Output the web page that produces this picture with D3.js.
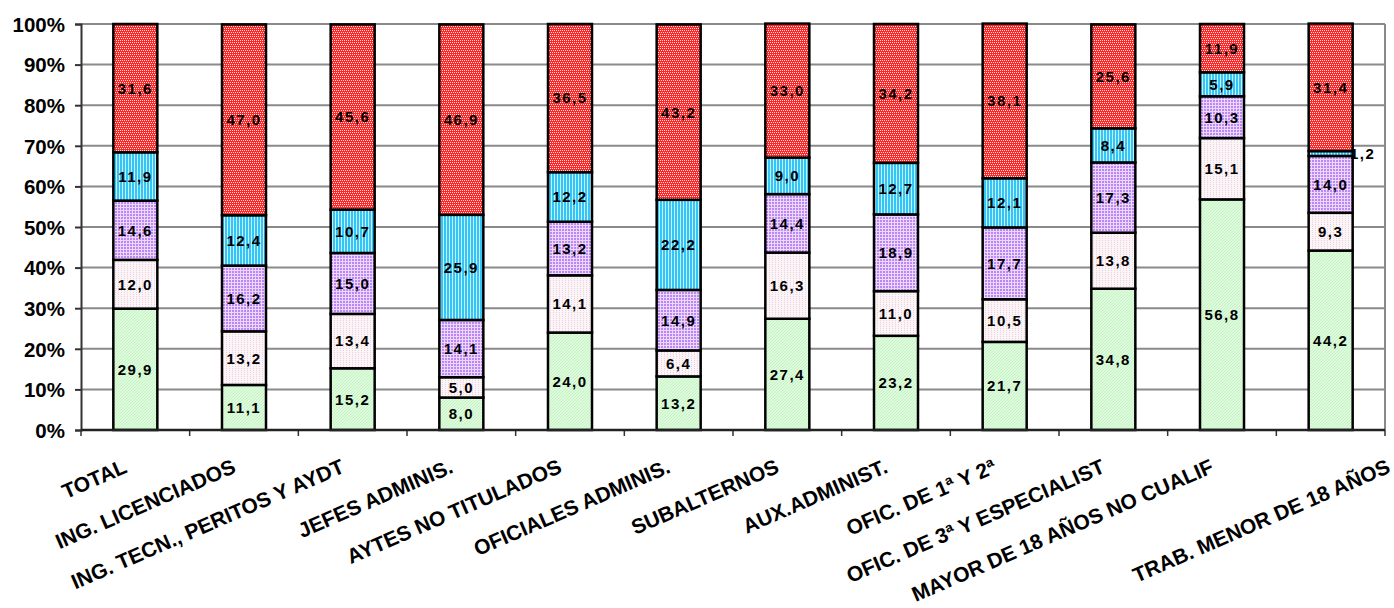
<!DOCTYPE html>
<html><head><meta charset="utf-8">
<script src="https://cdn.jsdelivr.net/npm/d3@7"></script>
<style>body{margin:0;background:#fff;} svg{display:block;}</style>
</head><body>
<svg id="c" width="1394" height="608"></svg>
<script>
const categories = ["TOTAL","ING. LICENCIADOS","ING. TECN., PERITOS Y AYDT","JEFES ADMINIS.","AYTES NO TITULADOS","OFICIALES ADMINIS.","SUBALTERNOS","AUX.ADMINIST.","OFIC. DE 1ª Y 2ª","OFIC. DE 3ª Y ESPECIALIST","MAYOR DE 18 AÑOS NO CUALIF","TRAB. MENOR DE 18 AÑOS"];
const serie1 = [29.9,11.1,15.2,8.0,24.0,13.2,27.4,23.2,21.7,34.8,56.8,44.2];
const serie2 = [12.0,13.2,13.4,5.0,14.1,6.4,16.3,11.0,10.5,13.8,15.1,9.3];
const serie3 = [14.6,16.2,15.0,14.1,13.2,14.9,14.4,18.9,17.7,17.3,10.3,14.0];
const serie4 = [11.9,12.4,10.7,25.9,12.2,22.2,9.0,12.7,12.1,8.4,5.9,1.2];
const serie5 = [31.6,47.0,45.6,46.9,36.5,43.2,33.0,34.2,38.1,25.6,11.9,31.4];
const yTicks = [0,10,20,30,40,50,60,70,80,90,100];

const series = [serie1,serie2,serie3,serie4,serie5];
const keys = ["s1","s2","s3","s4","s5"];
const rows = categories.map((c,i)=>{const o={cat:c}; keys.forEach((k,j)=>o[k]=series[j][i]); return o;});

const svg = d3.select("#c");
const M = {l:81, r:1385, t:24, b:430};
const x = d3.scaleBand().domain(categories).range([M.l,M.r]).paddingInner(0.595).paddingOuter(0.2975);
const y = d3.scaleLinear().domain([0,100]).range([M.b,M.t]);

// patterns (6x6 tiles to avoid seam artifacts)
const defs = svg.append("defs");
function pat(id,bg,fg,cells){
  const p = defs.append("pattern").attr("id",id).attr("patternUnits","userSpaceOnUse").attr("width",6).attr("height",6);
  p.append("rect").attr("width",6).attr("height",6).attr("fill",bg);
  p.selectAll("r").data(cells).join("rect").attr("x",d=>d[0]).attr("y",d=>d[1]).attr("width",d=>d[2]).attr("height",d=>d[3])
    .attr("fill",fg).attr("shape-rendering","crispEdges");
}
// green diagonal hatch
pat("p1","#dcfcdc","#c6f0c6",d3.range(6).map(i=>[i,5-i,1,1]).concat(d3.range(6).map(i=>[(i+3)%6,5-i,1,1])));
// pink dots
pat("p2","#fcf5f8","#ecd0de",[[1,0,1,1],[4,0,1,1],[1,2,1,1],[4,2,1,1],[1,4,1,1],[4,4,1,1]]);
// purple grid
pat("p3","#be86f4","#ead9fc",[[0,0,6,1],[0,3,6,1],[0,0,1,6],[3,0,1,6]]);
// cyan vertical lines
pat("p4","#33c6f4","#c6efff",[[2,0,1,6],[5,0,1,6]]);
// red checker dots
pat("p5","#ff2626","#ffe0e0",[[0,0,1,1],[2,0,1,1],[4,0,1,1],[1,2,1,1],[3,2,1,1],[5,2,1,1],[0,4,1,1],[2,4,1,1],[4,4,1,1]]);

// gridlines
svg.append("g").selectAll("line").data(yTicks.filter(t=>t>0)).join("line")
  .attr("x1",M.l).attr("x2",M.r).attr("y1",d=>y(d)).attr("y2",d=>y(d))
  .attr("stroke","#8a8a8a").attr("stroke-width",2);
svg.append("line").attr("x1",M.r).attr("x2",M.r).attr("y1",M.t).attr("y2",M.b)
  .attr("stroke","#8a8a8a").attr("stroke-width",2);

// y axis
const yAxis = d3.axisLeft(y).tickValues(yTicks).tickSize(6).tickFormat(d=>d+"%");
const gy = svg.append("g").attr("transform",`translate(${M.l},0)`).call(yAxis);
gy.select(".domain").attr("stroke","#333").attr("stroke-width",2);
gy.selectAll(".tick line").attr("stroke","#333").attr("stroke-width",2);
gy.selectAll("text").attr("font-family","Liberation Sans, Arial, sans-serif").attr("font-weight","bold")
  .attr("font-size","20.5px").attr("fill","#000").attr("x",-16).attr("dy","0.36em");

// x axis ticks at category boundaries
const step = x.step();
const bounds = d3.range(categories.length+1).map(i=>M.l+i*step);
svg.append("g").selectAll("line").data(bounds).join("line")
  .attr("x1",d=>d).attr("x2",d=>d).attr("y1",M.b).attr("y2",M.b+6)
  .attr("stroke","#333").attr("stroke-width",1.5);

// stacks
const stack = d3.stack().keys(keys)(rows);
const g = svg.append("g");
stack.forEach((layer,li)=>{
  g.append("g").selectAll("rect").data(layer).join("rect")
    .attr("x",d=>x(d.data.cat)).attr("width",x.bandwidth())
    .attr("y",d=>y(d[1])).attr("height",d=>y(d[0])-y(d[1]))
    .attr("fill",`url(#p${li+1})`).attr("stroke","#000").attr("stroke-width",2.5);
});
svg.append("line").attr("x1",M.l).attr("x2",M.r).attr("y1",M.b).attr("y2",M.b).attr("stroke","#222").attr("stroke-width",2.5);

// value labels
const fmt = v => v.toFixed(1).replace(".",",");
stack.forEach((layer,li)=>{
  g.append("g").selectAll("text").data(layer).join("text")
    .attr("x",d=>{
      const h = y(d[0])-y(d[1]);
      return h < 10 ? x(d.data.cat)+x.bandwidth()+10 : x(d.data.cat)+x.bandwidth()/2;
    })
    .attr("y",d=>(y(d[0])+y(d[1]))/2).attr("dy","0.36em")
    .attr("text-anchor","middle")
    .attr("font-family","Liberation Sans, Arial, sans-serif").attr("font-weight","bold")
    .attr("font-size","15px").attr("letter-spacing","1.5px").attr("fill","#000")
    .text(d=>fmt(d[1]-d[0]));
});

// x labels (rotated; the last one sits further right as in the original)
svg.append("g").selectAll("text").data(categories).join("text")
  .attr("transform",(d,i)=>`translate(${x(d)+x.bandwidth()/2+(i===categories.length-1?61:-7)},${M.b+42}) rotate(-23.5)`)
  .attr("text-anchor","end")
  .attr("font-family","Liberation Sans, Arial, sans-serif").attr("font-weight","bold")
  .attr("font-size","21px").attr("fill","#000")
  .text(d=>d);
</script>
</body></html>
